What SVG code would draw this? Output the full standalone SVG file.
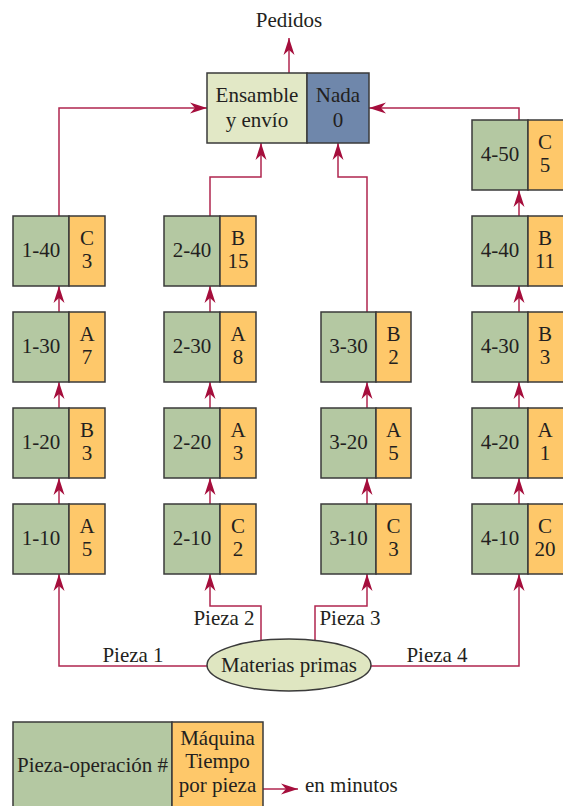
<svg xmlns="http://www.w3.org/2000/svg" width="563" height="806" viewBox="0 0 563 806">
<style>
text{font-family:"Liberation Serif","Times New Roman",serif;font-size:21px;fill:#231f20;text-anchor:middle}
.g{fill:#b4c8a2;stroke:#3a3a3a;stroke-width:1.5}
.o{fill:#fec86a;stroke:#3a3a3a;stroke-width:1.5}
.c{fill:none;stroke:#b0264f;stroke-width:1.5;marker-end:url(#ah)}
</style>
<defs>
<marker id="ah" markerUnits="userSpaceOnUse" markerWidth="20" markerHeight="12" viewBox="-17 -6 18 12" refX="0" refY="0" orient="auto">
<path d="M0,0 L-17,-5.5 L-12,0 L-17,5.5 Z" fill="#a50e3c"/>
</marker>
</defs>
<rect width="563" height="806" fill="#fff"/>
<g id="connectors">
<path class="c" d="M289,73 V38"/>
<path class="c" d="M59,216 V108 H207"/>
<path class="c" d="M519,120 V108 H369"/>
<path class="c" d="M210,216 V177 H261 V143"/>
<path class="c" d="M367,312 V177 H338 V143"/>
<path class="c" d="M59,312 V286"/>
<path class="c" d="M59,408 V382"/>
<path class="c" d="M59,504 V478"/>
<path class="c" d="M210,312 V286"/>
<path class="c" d="M210,408 V382"/>
<path class="c" d="M210,504 V478"/>
<path class="c" d="M367,408 V382"/>
<path class="c" d="M367,504 V478"/>
<path class="c" d="M519,216 V190"/>
<path class="c" d="M519,312 V286"/>
<path class="c" d="M519,408 V382"/>
<path class="c" d="M519,504 V478"/>
<path class="c" d="M208,666 H59 V574"/>
<path class="c" d="M370,666 H519 V574"/>
<path class="c" d="M261,640 V606 H210 V574"/>
<path class="c" d="M315,640 V606 H367 V574"/>
<path class="c" d="M263,789 H298"/>
</g>
<text x="289" y="27">Pedidos</text>
<g id="ensamble">
<rect x="207" y="73" width="100" height="70" fill="#e2e8c6" stroke="#3a3a3a" stroke-width="1.5"/>
<rect x="307" y="73" width="62" height="70" fill="#6f87ab" stroke="#3a3a3a" stroke-width="1.5"/>
<text x="257" y="102">Ensamble</text><text x="257" y="127">y envío</text>
<text x="338" y="102">Nada</text><text x="338" y="127">0</text>
</g>
<g id="n1-40"><rect class="g" x="13" y="216" width="56" height="70"/><rect class="o" x="69" y="216" width="36" height="70"/><text x="41" y="257">1-40</text><text x="87" y="245">C</text><text x="87" y="268">3</text></g>
<g id="n1-30"><rect class="g" x="13" y="312" width="56" height="70"/><rect class="o" x="69" y="312" width="36" height="70"/><text x="41" y="353">1-30</text><text x="87" y="341">A</text><text x="87" y="364">7</text></g>
<g id="n1-20"><rect class="g" x="13" y="408" width="56" height="70"/><rect class="o" x="69" y="408" width="36" height="70"/><text x="41" y="449">1-20</text><text x="87" y="437">B</text><text x="87" y="460">3</text></g>
<g id="n1-10"><rect class="g" x="13" y="504" width="56" height="70"/><rect class="o" x="69" y="504" width="36" height="70"/><text x="41" y="545">1-10</text><text x="87" y="533">A</text><text x="87" y="556">5</text></g>
<g id="n2-40"><rect class="g" x="164" y="216" width="56" height="70"/><rect class="o" x="220" y="216" width="36" height="70"/><text x="192" y="257">2-40</text><text x="238" y="245">B</text><text x="238" y="268">15</text></g>
<g id="n2-30"><rect class="g" x="164" y="312" width="56" height="70"/><rect class="o" x="220" y="312" width="36" height="70"/><text x="192" y="353">2-30</text><text x="238" y="341">A</text><text x="238" y="364">8</text></g>
<g id="n2-20"><rect class="g" x="164" y="408" width="56" height="70"/><rect class="o" x="220" y="408" width="36" height="70"/><text x="192" y="449">2-20</text><text x="238" y="437">A</text><text x="238" y="460">3</text></g>
<g id="n2-10"><rect class="g" x="164" y="504" width="56" height="70"/><rect class="o" x="220" y="504" width="36" height="70"/><text x="192" y="545">2-10</text><text x="238" y="533">C</text><text x="238" y="556">2</text></g>
<g id="n3-30"><rect class="g" x="321" y="312" width="55" height="70"/><rect class="o" x="376" y="312" width="35" height="70"/><text x="348.5" y="353">3-30</text><text x="393.5" y="341">B</text><text x="393.5" y="364">2</text></g>
<g id="n3-20"><rect class="g" x="321" y="408" width="55" height="70"/><rect class="o" x="376" y="408" width="35" height="70"/><text x="348.5" y="449">3-20</text><text x="393.5" y="437">A</text><text x="393.5" y="460">5</text></g>
<g id="n3-10"><rect class="g" x="321" y="504" width="55" height="70"/><rect class="o" x="376" y="504" width="35" height="70"/><text x="348.5" y="545">3-10</text><text x="393.5" y="533">C</text><text x="393.5" y="556">3</text></g>
<g id="n4-50"><rect class="g" x="472" y="120" width="56" height="70"/><rect class="o" x="528" y="120" width="37" height="70"/><text x="500" y="161">4-50</text><text x="545" y="149">C</text><text x="545" y="172">5</text></g>
<g id="n4-40"><rect class="g" x="472" y="216" width="56" height="70"/><rect class="o" x="528" y="216" width="37" height="70"/><text x="500" y="257">4-40</text><text x="545" y="245">B</text><text x="545" y="268">11</text></g>
<g id="n4-30"><rect class="g" x="472" y="312" width="56" height="70"/><rect class="o" x="528" y="312" width="37" height="70"/><text x="500" y="353">4-30</text><text x="545" y="341">B</text><text x="545" y="364">3</text></g>
<g id="n4-20"><rect class="g" x="472" y="408" width="56" height="70"/><rect class="o" x="528" y="408" width="37" height="70"/><text x="500" y="449">4-20</text><text x="545" y="437">A</text><text x="545" y="460">1</text></g>
<g id="n4-10"><rect class="g" x="472" y="504" width="56" height="70"/><rect class="o" x="528" y="504" width="37" height="70"/><text x="500" y="545">4-10</text><text x="545" y="533">C</text><text x="545" y="556">20</text></g>
<g id="materias">
<ellipse cx="289" cy="665" rx="82" ry="26" fill="#dfe6c1" stroke="#3a3a3a" stroke-width="1.5"/>
<text x="289" y="672">Materias primas</text>
</g>
<g id="labels">
<text x="133" y="662">Pieza 1</text>
<text x="224" y="625">Pieza 2</text>
<text x="350" y="625">Pieza 3</text>
<text x="437" y="662">Pieza 4</text>
</g>
<g id="legend">
<rect class="g" x="13" y="722" width="159" height="90"/>
<rect class="o" x="172" y="722" width="91" height="90"/>
<text x="92.5" y="772">Pieza-operación #</text>
<text x="217.5" y="745">Máquina</text>
<text x="217.5" y="768">Tiempo</text>
<text x="217.5" y="792">por pieza</text>
<text x="305" y="792" style="text-anchor:start">en minutos</text>
</g>
</svg>
